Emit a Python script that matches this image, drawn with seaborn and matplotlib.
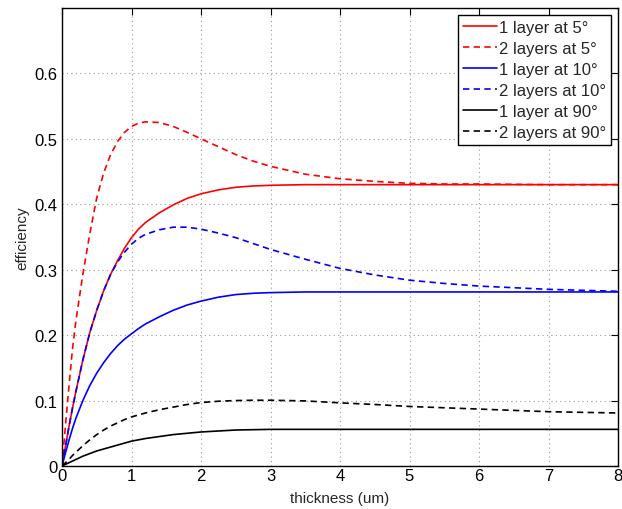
import numpy as np
import pandas as pd
import matplotlib
matplotlib.use("Agg")
import matplotlib.pyplot as plt
import seaborn as sns

thickness = [0, 0.05, 0.1, 0.15, 0.2, 0.3, 0.4, 0.5, 0.6, 0.7, 0.8, 0.9, 1.0,
             1.1, 1.2, 1.4, 1.6, 1.8, 2.0, 2.25, 2.5, 2.75, 3.0, 3.5, 4.0,
             4.5, 5.0, 5.5, 6.0, 7.0, 8.0]

one_layer_5 = [0, 0.03, 0.06, 0.088, 0.114, 0.162, 0.204, 0.238, 0.268, 0.293,
               0.314, 0.333, 0.349, 0.362, 0.372, 0.387, 0.399, 0.409, 0.416,
               0.422, 0.426, 0.428, 0.429,
               0.430, 0.430, 0.430, 0.430, 0.430, 0.430, 0.430, 0.430]
two_layers_5 = [0, 0.062, 0.122, 0.178, 0.222, 0.293, 0.355, 0.410, 0.448, 0.476,
                0.496, 0.510, 0.519, 0.524, 0.526, 0.525, 0.519, 0.510, 0.500,
                0.488, 0.476, 0.466, 0.458,
                0.446, 0.439, 0.435, 0.432, 0.431, 0.431, 0.430, 0.430]
one_layer_10 = [0, 0.02, 0.039, 0.057, 0.073, 0.100, 0.123, 0.142, 0.158, 0.172,
                0.184, 0.194, 0.202, 0.210, 0.217, 0.228, 0.238, 0.246, 0.252,
                0.258, 0.262, 0.264, 0.265,
                0.266, 0.266, 0.266, 0.266, 0.266, 0.266, 0.266, 0.266]
two_layers_10 = [0, 0.03, 0.06, 0.088, 0.114, 0.162, 0.204, 0.238, 0.268, 0.293,
                 0.312, 0.327, 0.339, 0.348, 0.354, 0.361, 0.365, 0.365, 0.362,
                 0.356, 0.349, 0.340, 0.331,
                 0.316, 0.302, 0.292, 0.284, 0.279, 0.275, 0.270, 0.267]
one_layer_90 = [0, 0.0025, 0.005, 0.0075, 0.010, 0.015, 0.019, 0.023, 0.026, 0.029,
                0.032, 0.035, 0.038, 0.040, 0.042, 0.045, 0.048, 0.050, 0.052,
                0.0535, 0.055, 0.0555, 0.056,
                0.056, 0.056, 0.056, 0.056, 0.056, 0.056, 0.056, 0.056]
two_layers_90 = [0, 0.005, 0.010, 0.016, 0.021, 0.031, 0.040, 0.048, 0.055, 0.061,
                 0.066, 0.071, 0.075, 0.078, 0.081, 0.086, 0.090, 0.094, 0.097,
                 0.099, 0.100, 0.1005, 0.1005,
                 0.0995, 0.0965, 0.094, 0.091, 0.089, 0.087, 0.083, 0.081]

labels = ["1 layer at 5\u00b0", "2 layers at 5\u00b0", "1 layer at 10\u00b0",
          "2 layers at 10\u00b0", "1 layer at 90\u00b0", "2 layers at 90\u00b0"]
series = [one_layer_5, two_layers_5, one_layer_10, two_layers_10,
          one_layer_90, two_layers_90]
colors = ["#ff0000", "#ff0000", "#0000ff", "#0000ff", "#000000", "#000000"]
styles = ["-", "--", "-", "--", "-", "--"]

sns.set_style("white")
plt.rcParams["font.family"] = ["Liberation Sans", "DejaVu Sans"]

fig = plt.figure(figsize=(6.22, 5.10), dpi=100)
ax = fig.add_axes([62 / 622, 1 - 467 / 510, (618 - 62) / 622, (467 - 9) / 510])

for lab, ys, c, ls in zip(labels, series, colors, styles):
    df = pd.DataFrame({"thickness": thickness, "efficiency": ys})
    sns.lineplot(data=df, x="thickness", y="efficiency", ax=ax, color=c,
                 linestyle=ls, linewidth=1.2, label=lab)
for line in ax.get_lines():
    if line.get_linestyle() == "--":
        line.set_dashes((3.8, 2.6))

ax.set_xlim(0, 8)
ax.set_ylim(0, 0.7)
ax.set_xticks(range(0, 9))
ax.set_yticks([0, 0.1, 0.2, 0.3, 0.4, 0.5, 0.6])
ax.set_yticklabels(["0", "0.1", "0.2", "0.3", "0.4", "0.5", "0.6"])
ax.grid(True, linestyle=(0, (1, 3)), color="#999999", linewidth=0.8)
ax.tick_params(direction="in", length=5, width=0.8, top=True, right=True,
               labelsize=12, colors="black")
ax.tick_params(axis="x", pad=1.5)
ax.tick_params(axis="y", pad=3)
for s in ax.spines.values():
    s.set_color("black")
    s.set_linewidth(1.0)
ax.set_xlabel("thickness (um)", fontsize=11, labelpad=6)
ax.set_ylabel("efficiency", fontsize=11, labelpad=4)

leg = ax.legend(loc="upper right", fontsize=12, frameon=True, fancybox=False,
                edgecolor="black", framealpha=1, handlelength=2.0,
                handletextpad=0.15, borderpad=0.3, labelspacing=0.36,
                borderaxespad=0.4)
leg.get_frame().set_linewidth(1.0)

fig.savefig("out.png", dpi=100)
